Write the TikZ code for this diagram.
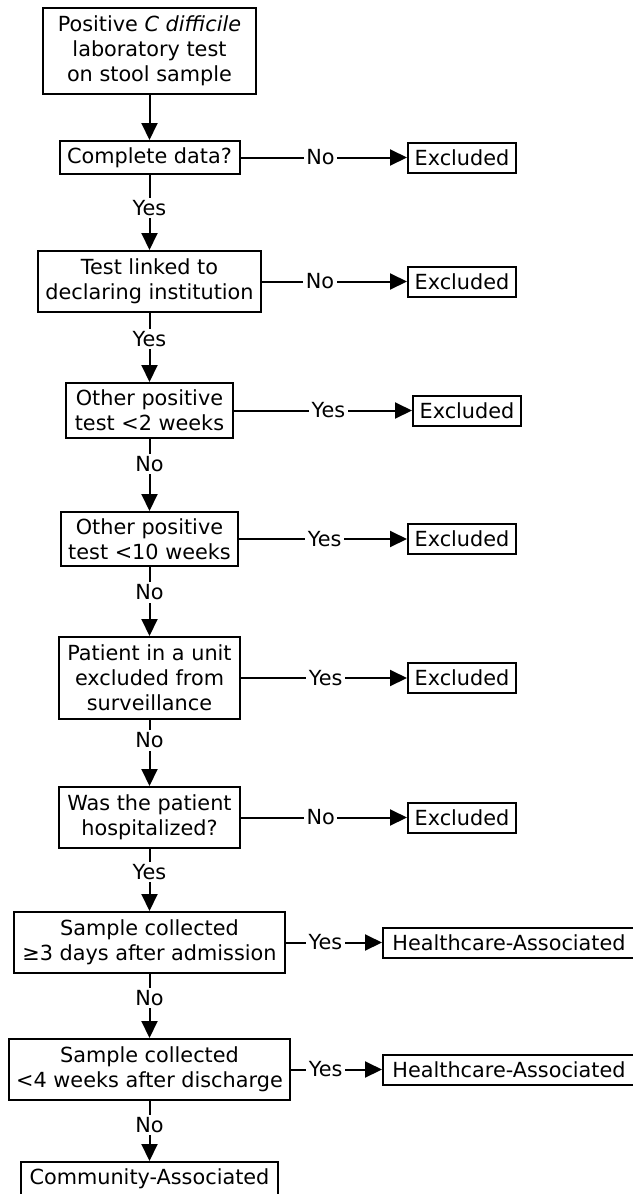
\documentclass[tikz,border=0pt]{standalone}
\usepackage{fontspec}
\setmainfont{DejaVu Sans}
\usepackage{tikz}
\usetikzlibrary{arrows.meta}
\newcommand{\chartfont}{\fontsize{10.4}{12.5}\selectfont}
\tikzstyle{test} = [rectangle, draw, line width=1pt, align=center,
    inner sep=2pt, font=\chartfont]
\tikzstyle{outcome} = [rectangle, draw, line width=1pt,
    inner sep=2pt, minimum height=15pt, font=\chartfont]
\tikzstyle{line} = [draw, line width=1pt, -{Triangle[length=8.5pt,width=8pt]}]
\tikzstyle{lbl} = [fill=white, inner sep=1.2pt, pos=0.38, font=\chartfont]

\begin{document}
\begin{tikzpicture}[x=0.5pt,y=-0.5pt]
    \useasboundingbox (0,0) rectangle (632,1194);
    % Place nodes
    \node [test, minimum width=106.5pt, minimum height=43pt] (pos) at (149.5,51)
        {Positive \emph{C difficile}\\laboratory test\\on stool sample};
    \node [test, below of=pos, node distance=53.25pt, minimum width=90pt, minimum height=16.5pt] (data)
        {Complete data?};
    \node [test, below of=data, node distance=62pt, minimum width=111.5pt, minimum height=30.5pt] (link)
        {Test linked to\\declaring institution};
    \node [test, below of=link, node distance=64.5pt, minimum width=83.5pt, minimum height=27.5pt] (two)
        {Other positive\\test <2 weeks};
    \node [test, below of=two, node distance=64.25pt, minimum width=88.5pt, minimum height=27pt] (ten)
        {Other positive\\test <10 weeks};
    \node [test, below of=ten, node distance=69.5pt, minimum width=90.5pt, minimum height=41pt] (unit)
        {Patient in a unit\\excluded from\\surveillance};
    \node [test, below of=unit, node distance=69.75pt, minimum width=90.5pt, minimum height=30.5pt] (hosp)
        {Was the patient\\hospitalized?};
    \node [test, below of=hosp, node distance=62.5pt, minimum width=135.5pt, minimum height=30.5pt] (adm)
        {Sample collected\\≥3 days after admission};
    \node [test, below of=adm, node distance=63.5pt, minimum width=140.5pt, minimum height=30.5pt] (dis)
        {Sample collected\\<4 weeks after discharge};
    \node [test, below of=dis, node distance=54.5pt, minimum width=128.5pt, minimum height=16.5pt] (ca)
        {Community-Associated};
    % Outcomes
    \node [outcome, right of=data, node distance=156.25pt, minimum width=54pt] (exdata) {Excluded};
    \node [outcome, right of=link, node distance=156.25pt, minimum width=54pt] (exlink) {Excluded};
    \node [outcome, right of=two, node distance=158.75pt, minimum width=54pt] (extwo) {Excluded};
    \node [outcome, right of=ten, node distance=156.25pt, minimum width=54pt] (exten) {Excluded};
    \node [outcome, right of=unit, node distance=156.25pt, minimum width=54pt] (exunit) {Excluded};
    \node [outcome, right of=hosp, node distance=156.25pt, minimum width=54pt] (exhosp) {Excluded};
    \node [outcome, right of=adm, node distance=179.75pt, minimum width=126pt] (haadm) {Healthcare-Associated};
    \node [outcome, right of=dis, node distance=179.75pt, minimum width=126pt] (hadis) {Healthcare-Associated};
    % Draw edges
    \path [line] (pos) -- (data);
    \path [line] (data) -- node[lbl, pos=0.44] {Yes} (link);
    \path [line] (link) -- node[lbl] {Yes} (two);
    \path [line] (two) -- node[lbl, pos=0.35] {No} (ten);
    \path [line] (ten) -- node[lbl, pos=0.37] {No} (unit);
    \path [line] (unit) -- node[lbl, pos=0.31] {No} (hosp);
    \path [line] (hosp) -- node[lbl, pos=0.37] {Yes} (adm);
    \path [line] (adm) -- node[lbl] {No} (dis);
    \path [line] (dis) -- node[lbl, pos=0.4] {No} (ca);
    \path [line] (data) -- node[lbl, pos=0.48] {No} (exdata);
    \path [line] (link) -- node[lbl, pos=0.4] {No} (exlink);
    \path [line] (two) -- node[lbl, pos=0.53] {Yes} (extwo);
    \path [line] (ten) -- node[lbl, pos=0.51] {Yes} (exten);
    \path [line] (unit) -- node[lbl, pos=0.51] {Yes} (exunit);
    \path [line] (hosp) -- node[lbl, pos=0.48] {No} (exhosp);
    \path [line] (adm) -- node[lbl, pos=0.41] {Yes} (haadm);
    \path [line] (dis) -- node[lbl, pos=0.38] {Yes} (hadis);
\end{tikzpicture}
\end{document}
